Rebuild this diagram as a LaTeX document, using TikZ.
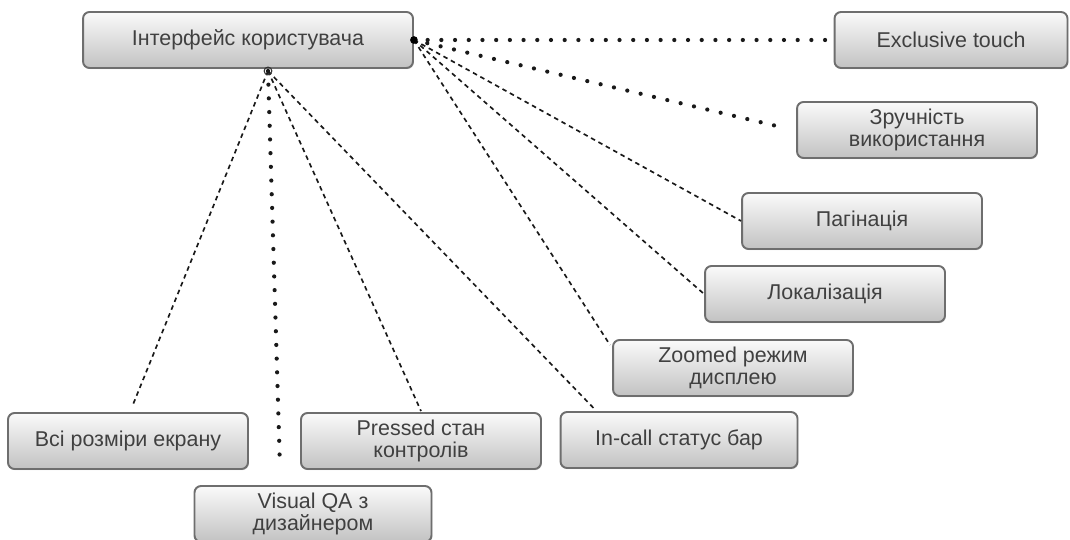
\documentclass[tikz,border=0pt]{standalone}
\usepackage{fontspec}
\setmainfont{Liberation Sans}
\usetikzlibrary{calc,shadows}
\definecolor{boxline}{HTML}{6E6E6E}
\definecolor{boxtop}{HTML}{FAFAFA}
\definecolor{boxbot}{HTML}{C2C2C2}
\definecolor{txt}{HTML}{404040}
\begin{document}
\begin{tikzpicture}[x=0.02cm,y=-0.02cm,
  item/.style={draw=boxline, line width=1.1pt, rounded corners=0.13cm,
    top color=boxtop, bottom color=boxbot, minimum height=1.12cm,
    minimum width=4.8cm, text=txt, align=center, inner sep=2pt,
    font=\fontsize{12.2}{12.6}\selectfont,
    drop shadow={shadow xshift=0.5pt, shadow yshift=-0.7pt, opacity=0.25}},
  bigdots/.style={line width=2.4pt, dash pattern=on 0pt off 7.8pt, line cap=round, black!90},
  fine/.style={line width=0.95pt, dash pattern=on 2.6pt off 2.2pt, black!90}]
\useasboundingbox (0,0) rectangle (1070,540);

% boxes
\node[item, minimum width=6.6cm] (root) at (248,40) {Інтерфейс користувача};
\node[item, minimum width=4.66cm] (ex) at (951,40) {Exclusive touch};
\node[item] (zr) at (917,130) {Зручність\\використання};
\node[item] (pag) at (862,221) {Пагінація};
\node[item] (lok) at (825,294) {Локалізація};
\node[item] (zoom) at (733,368) {Zoomed режим\\дисплею};
\node[item, minimum width=4.74cm] (inc) at (679,440) {In-call статус бар};
\node[item] (pr) at (421,441) {Pressed стан\\контролів};
\node[item] (all) at (128,441) {Всі розміри екрану};
\node[item, minimum width=4.74cm] (vqa) at (313,514) {Visual QA з\\дизайнером};

% connection points
\coordinate (rE) at (root.east);
\coordinate (rS) at ($(root.south)+(20,2)$);
\coordinate (vqaEnd) at ($(vqa.north)+(-33,-17)$);

% connectors from the right side
\draw[bigdots] (rE) -- (ex.west);
\draw[bigdots] (rE) -- ($(zr.west)+(-11,-2)$);
\draw[fine] (rE) -- (pag.west);
\draw[fine] (rE) -- (lok.west);
\draw[fine] (rE) -- ($(zoom.north west)+(-2,6)$);

% connectors from the bottom side
\draw[fine] (rS) -- ($(all.north)+(4,-5)$);
\draw[bigdots] (rS) -- (vqaEnd);
\draw[fine] (rS) -- ($(pr.north)+(0,-1)$);
\draw[fine] (rS) -- ($(inc.north west)+(34,-3)$);

\fill[black] (rE) circle (2.2pt);
\draw[black!80, line width=0.6pt] (rS) circle (2.2pt);
\end{tikzpicture}
\end{document}
